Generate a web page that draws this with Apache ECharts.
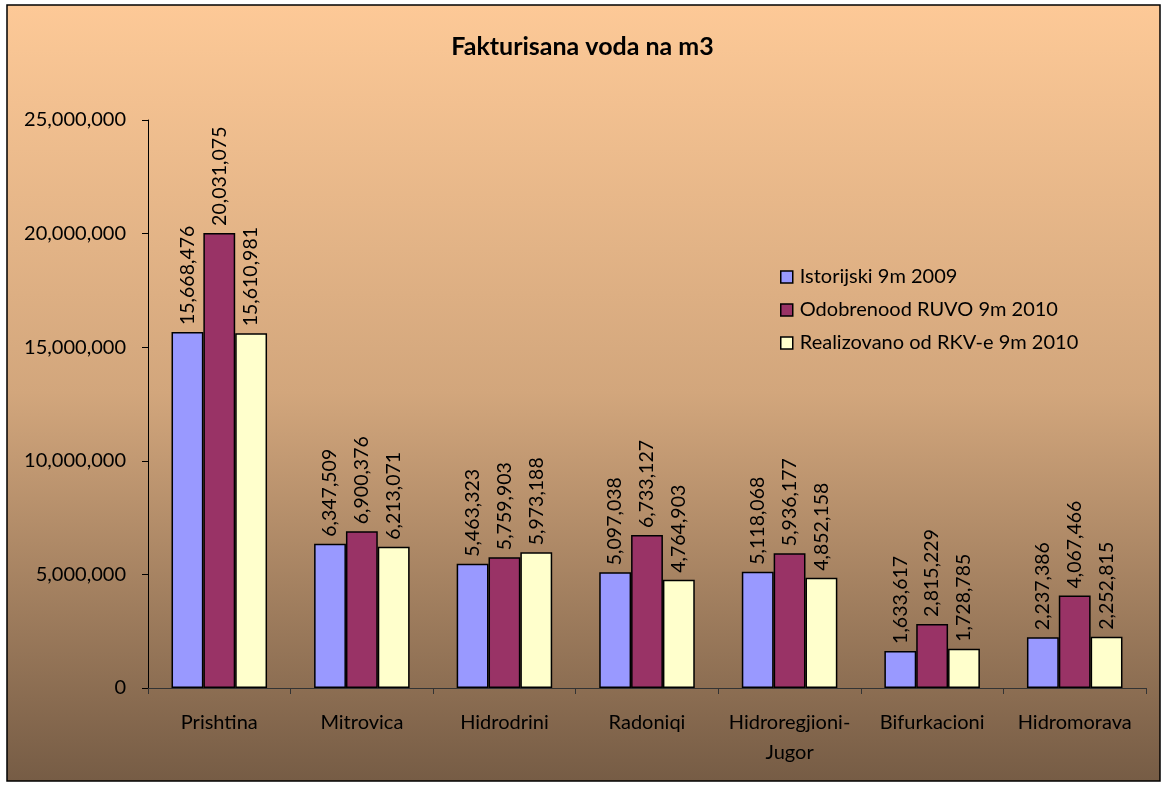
<!DOCTYPE html>
<html>
<head>
<meta charset="utf-8">
<script src="https://cdn.jsdelivr.net/npm/echarts@6/dist/echarts.min.js"></script>
<style>
html, body { margin: 0; padding: 0; background: #fff; }
#chart { width: 1165px; height: 785px; }
</style>
</head>
<body>
<div id="chart"></div>
<script>
var chart = echarts.init(document.getElementById('chart'));
// kategorije (x osa)
var categories = ['Prishtina', 'Mitrovica', 'Hidrodrini', 'Radoniqi', 'Hidroregjioni-\nJugor', 'Bifurkacioni', 'Hidromorava'];
var seriesNames = ['Istorijski 9m 2009', 'Odobrenood RUVO 9m 2010', 'Realizovano od RKV-e 9m 2010'];
var istorijski = [15668476, 6347509, 5463323, 5097038, 5118068, 1633617, 2237386];
var odobreno = [20031075, 6900376, 5759903, 6733127, 5936177, 2815229, 4067466];
var realizovano = [15610981, 6213071, 5973188, 4764903, 4852158, 1728785, 2252815];
var yTicks = [0, 5000000, 10000000, 15000000, 20000000, 25000000];

var font = 'Lato, "Open Sans", sans-serif';
function fmt(v) { return v.toLocaleString('en-US'); }

function bar(name, data, color) {
    return {
        name: name,
        type: 'bar',
        barGap: 0,
        barCategoryGap: '33%',
        itemStyle: { color: color, borderColor: '#000', borderWidth: 1.5 },
        label: {
            show: true,
            position: 'top',
            rotate: 90,
            align: 'left',
            verticalAlign: 'middle',
            distance: 7,
            fontFamily: font,
            fontSize: 19.5,
            color: '#000',
            formatter: function (p) { return fmt(p.value); }
        },
        data: data
    };
}

var option = {
    backgroundColor: '#fff',
    animation: false,
    graphic: [{
        type: 'rect',
        z: -10,
        shape: { x: 7, y: 5, width: 1153, height: 776 },
        style: {
            fill: new echarts.graphic.LinearGradient(0, 0, 0, 1, [
                { offset: 0, color: '#fdc997' },
                { offset: 0.5, color: '#d2a67c' },
                { offset: 1, color: '#765c45' }
            ]),
            stroke: '#000',
            lineWidth: 1.5
        }
    }],
    title: {
        text: 'Fakturisana voda na m3',
        left: 'center',
        top: 29,
        textStyle: { fontFamily: font, fontSize: 25, fontWeight: 'bold', color: '#000' }
    },
    legend: {
        orient: 'vertical',
        left: 775,
        top: 262,
        itemGap: 13,
        itemWidth: 12,
        itemHeight: 12,
        icon: 'rect',
        selectedMode: false,
        itemStyle: { borderColor: '#000', borderWidth: 1.5 },
        textStyle: { fontFamily: font, fontSize: 20, lineHeight: 20, color: '#000', padding: [0, 0, 0, 2] },
        data: seriesNames
    },
    grid: { left: 148, right: 19, top: 120, bottom: 97 },
    xAxis: {
        type: 'category',
        data: categories,
        axisLine: { lineStyle: { color: '#333', width: 1 } },
        axisTick: { show: true, length: 6, lineStyle: { color: '#333' } },
        axisLabel: { fontFamily: font, fontSize: 20, color: '#000', margin: 20, lineHeight: 30, interval: 0 }
    },
    yAxis: {
        type: 'value',
        min: 0,
        max: 25000000,
        interval: 5000000,
        axisLine: { show: true, lineStyle: { color: '#000', width: 1 } },
        axisTick: { show: true, length: 6, lineStyle: { color: '#000' } },
        splitLine: { show: false },
        axisLabel: {
            fontFamily: font, fontSize: 20, color: '#000', margin: 22,
            formatter: function (v) { return yTicks.indexOf(v) >= 0 ? fmt(v) : ''; }
        }
    },
    series: [
        bar(seriesNames[0], istorijski, '#9999ff'),
        bar(seriesNames[1], odobreno, '#993366'),
        bar(seriesNames[2], realizovano, '#ffffcc')
    ]
};
chart.setOption(option);
</script>
</body>
</html>
